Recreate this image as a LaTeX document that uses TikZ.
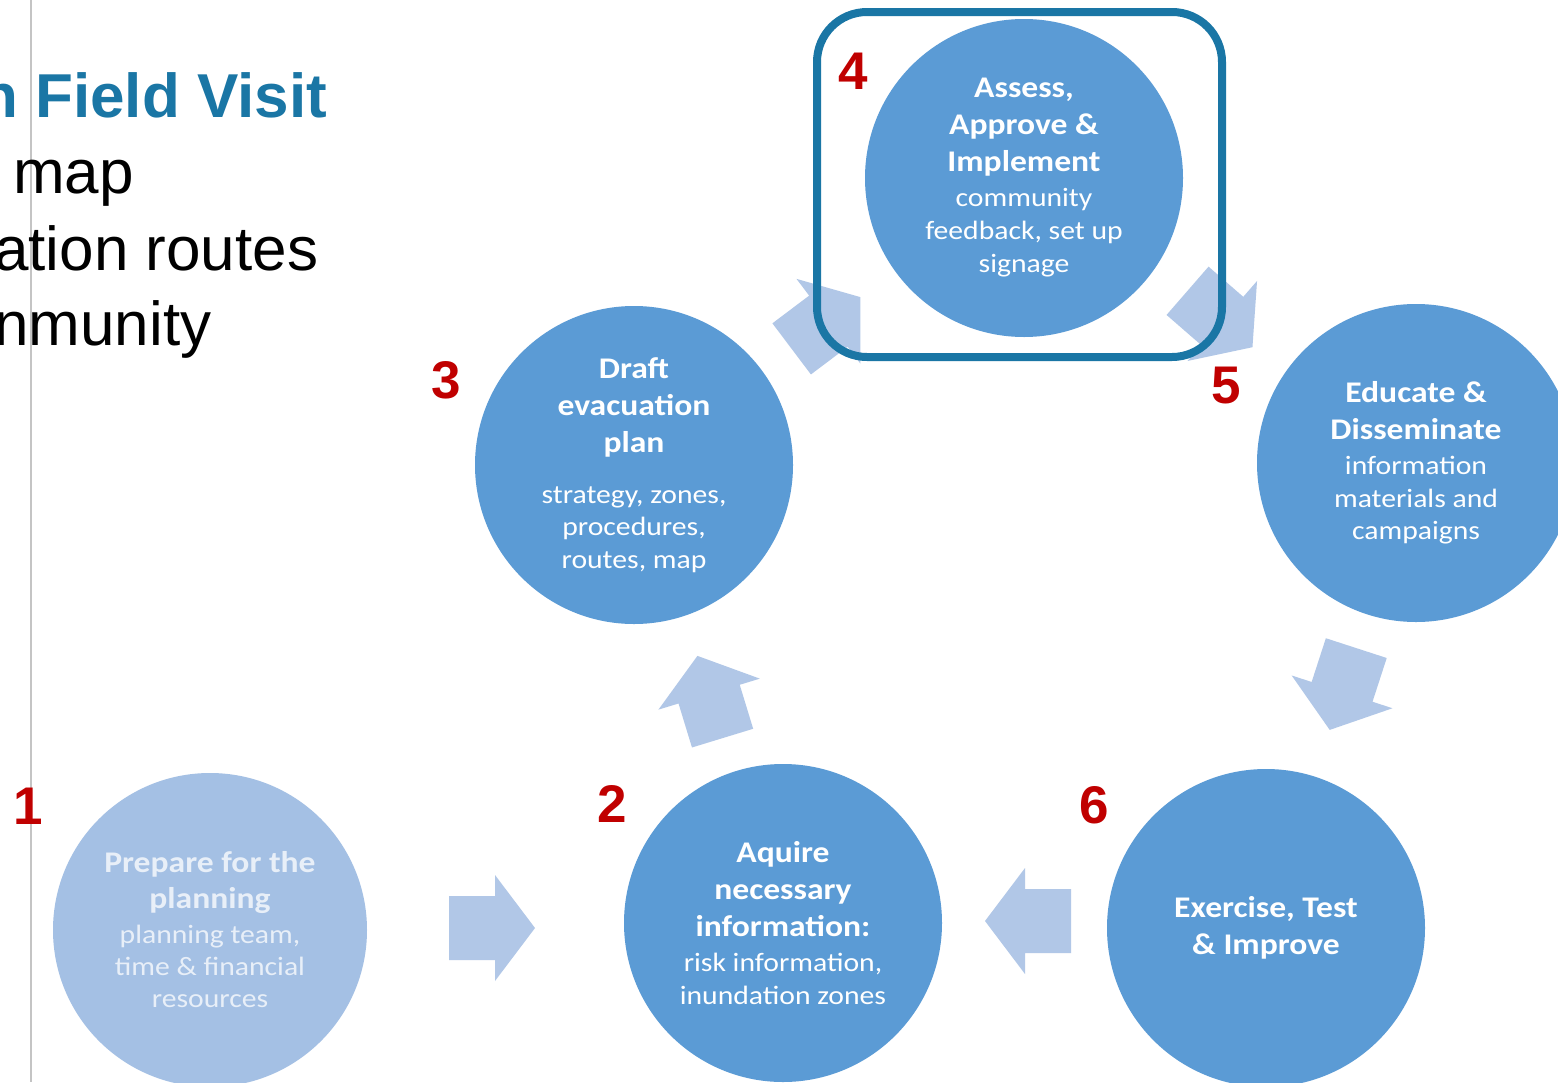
\documentclass[tikz,border=0pt]{standalone}
\usepackage{fontspec}
\setmainfont{Liberation Sans}
\newfontfamily\cf[FakeStretch=1.12]{Carlito}
\definecolor{stageblue}{HTML}{5B9BD5}
\definecolor{stagepale}{HTML}{A4C0E4}
\definecolor{arrowfill}{HTML}{B1C7E7}
\definecolor{numred}{HTML}{C00000}
\definecolor{frameblue}{HTML}{1A76A5}
\definecolor{rulegray}{HTML}{C4C4C4}
\newcommand\tfont{\cf\bfseries\fontsize{30}{37}\selectfont}
\newcommand\dfont{\mdseries\fontsize{26.5}{33}\selectfont}
\newcommand\blockarrow[3]{%
  \coordinate (#1) at #2;
  \fill[arrowfill, shift={(#1)}, rotate=#3]
    (-43,-32) -- (3,-32) -- (3,-53) -- (43,0) -- (3,53) -- (3,32) -- (-43,32) -- cycle;}
\begin{document}
\begin{tikzpicture}[x=1pt,y=-1pt,
  stage/.style={circle, fill=stageblue, minimum size=318pt, inner sep=0pt,
    align=center, text=white, font=\tfont},
  num/.style={inner sep=0pt, text=numred, font=\bfseries\fontsize{53}{60}\selectfont},
  slide/.style={anchor=base west, inner sep=0pt, font=\fontsize{62}{70}\selectfont}]
\useasboundingbox (0,0) rectangle (1558,1082);
\clip (0,0) rectangle (1558,1082);
\fill[white] (0,0) rectangle (1558,1082);
% slide remnants
\draw[rulegray, line width=1.2pt] (31,0) -- (31,1082);
\node[slide, font=\bfseries\fontsize{62}{70}\selectfont, text=frameblue] (ttl) at (-20,117) {n Field Visit};
\node[slide] (l1) at (13,193) {map};
\node[slide] (l2) at (-6,270) {ation routes};
\node[slide] (l3) at (-6,345) {nmunity};
% block arrows
\blockarrow{a12}{(492,928)}{0}
\blockarrow{a23}{(710,697)}{107}
\blockarrow{a34}{(826,323)}{37}
\blockarrow{a45}{(1220,319)}{-41}
\blockarrow{a56}{(1343,689)}{-108}
\blockarrow{a62}{(1028,921)}{180}
% stages
\node[stage, fill=stagepale, minimum size=314pt, text=white!75!stagepale] (s1) at (210,930)
  {Prepare for the\\[-1pt]planning\\[-2pt]{\dfont planning team,}\\[-5pt]{\dfont time \& financial}\\[-5pt]{\dfont resources}};
\node[stage] (s2) at (783,923)
  {Aquire\\necessary\\information:\\[-2pt]{\dfont risk information,}\\[-4pt]{\dfont inundation zones}};
\node[stage] (s3) at (634,465)
  {Draft\\evacuation\\plan\\[14pt]{\dfont strategy, zones,}\\[-5pt]{\dfont procedures,}\\[-4pt]{\dfont routes, map}};
\node[stage] (s4) at (1024,178)
  {Assess,\\Approve \&\\Implement\\[-2pt]{\dfont community}\\[-4pt]{\dfont feedback, set up}\\[-4pt]{\dfont signage}};
\node[stage] (s5) at (1416,463)
  {Educate \&\\Disseminate\\[-2pt]{\dfont information}\\[-4pt]{\dfont materials and}\\[-5pt]{\dfont campaigns}};
\node[stage] (s6) at (1266,928)
  {Exercise, Test\\\& Improve};
% numbers
\node[num] (n1) at (28,806) {1};
\node[num] (n2) at (612,804) {2};
\node[num] (n3) at (446,380) {3};
\node[num] (n4) at (853,71) {4};
\node[num] (n5) at (1226,386) {5};
\node[num] (n6) at (1094,805) {6};
% highlight frame
\node[draw=frameblue, line width=8pt, rounded corners=50pt, minimum width=405pt,
  minimum height=345pt, inner sep=0pt] (hl) at (1019.5,184.5) {};
\end{tikzpicture}
\end{document}
